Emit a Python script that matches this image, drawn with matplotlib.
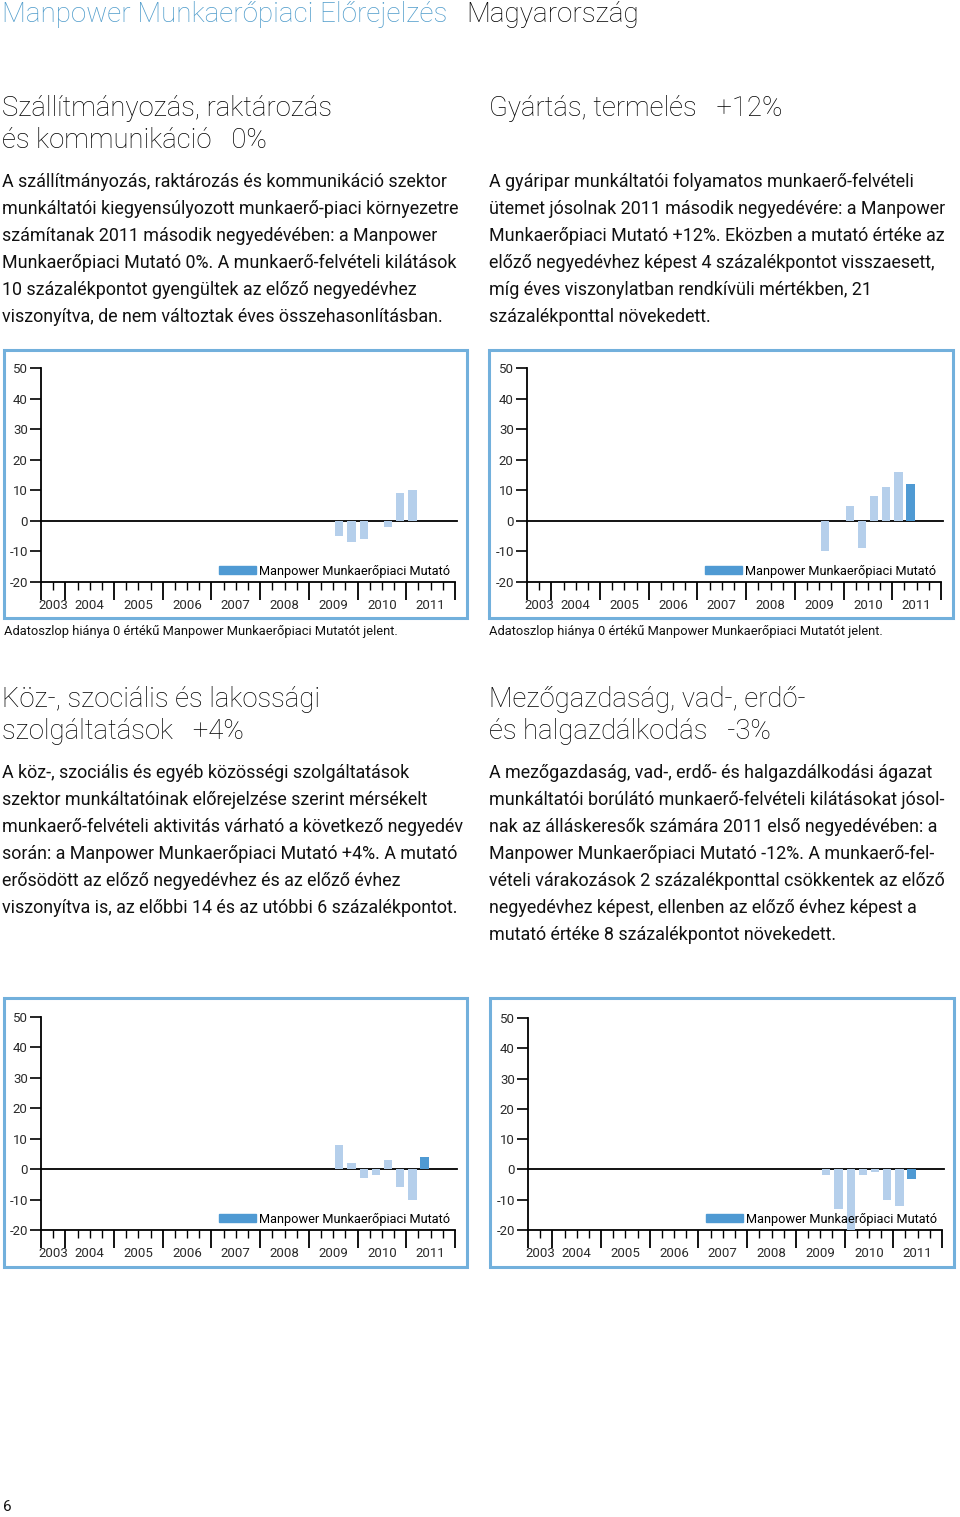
import matplotlib
matplotlib.use("Agg")
import matplotlib.pyplot as plt
from matplotlib.patches import Rectangle

plt.rcParams['font.family'] = ['Roboto', 'DejaVu Sans']

# quarters from 2003 Q3 to 2011 Q4 on the x axis
first_year = 2003
first_q = 3
n_quarters = 34
years = [2003, 2004, 2005, 2006, 2007, 2008, 2009, 2010, 2011]
yticks = [-20, -10, 0, 10, 20, 30, 40, 50]

# survey quarters with data (Hungary)
quarters = ["2009Q3", "2009Q4", "2010Q1", "2010Q2", "2010Q3", "2010Q4", "2011Q1", "2011Q2"]
transport = [-5, -7, -6, 0, -2, 9, 10, 0]
manufacturing = [-10, 0, 5, -9, 8, 11, 16, 12]
public_services = [8, 2, -3, -2, 3, -6, -10, 4]
agriculture = [-2, -13, -20, -2, -1, -10, -12, -3]

legend_label = "Manpower Munkaerőpiaci Mutató"
footnote = "Adatoszlop hiánya 0 értékű Manpower Munkaerőpiaci Mutatót jelent."

titles = {
    "tl": ["Szállítmányozás, raktározás", "és kommunikáció   0%"],
    "tr": ["Gyártás, termelés   +12%"],
    "bl": ["Köz-, szociális és lakossági", "szolgáltatások   +4%"],
    "br": ["Mezőgazdaság, vad-, erdő-", "és halgazdálkodás   -3%"],
}
bodies = {
    "tl": ["A szállítmányozás, raktározás és kommunikáció szektor",
           "munkáltatói kiegyensúlyozott munkaerő-piaci környezetre",
           "számítanak 2011 második negyedévében: a Manpower",
           "Munkaerőpiaci Mutató 0%. A munkaerő-felvételi kilátások",
           "10 százalékpontot gyengültek az előző negyedévhez",
           "viszonyítva, de nem változtak éves összehasonlításban."],
    "tr": ["A gyáripar munkáltatói folyamatos munkaerő-felvételi",
           "ütemet jósolnak 2011 második negyedévére: a Manpower",
           "Munkaerőpiaci Mutató +12%. Eközben a mutató értéke az",
           "előző negyedévhez képest 4 százalékpontot visszaesett,",
           "míg éves viszonylatban rendkívüli mértékben, 21",
           "százalékponttal növekedett."],
    "bl": ["A köz-, szociális és egyéb közösségi szolgáltatások",
           "szektor munkáltatóinak előrejelzése szerint mérsékelt",
           "munkaerő-felvételi aktivitás várható a következő negyedév",
           "során: a Manpower Munkaerőpiaci Mutató +4%. A mutató",
           "erősödött az előző negyedévhez és az előző évhez",
           "viszonyítva is, az előbbi 14 és az utóbbi 6 százalékpontot."],
    "br": ["A mezőgazdaság, vad-, erdő- és halgazdálkodási ágazat",
           "munkáltatói borúlátó munkaerő-felvételi kilátásokat jósol-",
           "nak az álláskeresők számára 2011 első negyedévében: a",
           "Manpower Munkaerőpiaci Mutató -12%. A munkaerő-fel-",
           "vételi várakozások 2 százalékponttal csökkentek az előző",
           "negyedévhez képest, ellenben az előző évhez képest a",
           "mutató értéke 8 százalékpontot növekedett."],
}

W, H = 960, 1517
LIGHT = "#b5cfeb"
DARK = "#4f9ad3"
BORDER = "#72b0dc"
HEAD_BLUE = "#4f9ccb"
INK = "#111111"

fig = plt.figure(figsize=(W / 100, H / 100), dpi=100)


def fy(y):
    return 1 - y / H


def q_index(label):
    yr = int(label[:4])
    q = int(label[5])
    return (yr - first_year) * 4 + (q - first_q)


def text_block(x, y0, lines, size, step, weight="normal", color=INK):
    for i, line in enumerate(lines):
        fig.text(x / W, fy(y0 + i * step), line, fontsize=size, color=color,
                 va="center", ha="left", fontweight=weight)


def chart(ax_left, ax_top, ax_bottom, ax_right, box, values, footer=None):
    bx0, by0, bx1, by1 = box
    fig.patches.append(Rectangle((bx0 / W, fy(by1)), (bx1 - bx0) / W, (by1 - by0) / H,
                                 transform=fig.transFigure, fill=False,
                                 edgecolor=BORDER, linewidth=2.2))
    ax = fig.add_axes([ax_left / W, fy(ax_bottom), (ax_right - ax_left) / W,
                       (ax_bottom - ax_top) / H])
    ax.set_xlim(0, n_quarters)
    ax.set_ylim(-20, 50)
    ax.patch.set_alpha(0)
    for s in ["top", "right"]:
        ax.spines[s].set_visible(False)
    ax.spines["left"].set_bounds(-20, 50)
    ax.spines["left"].set_linewidth(1.3)
    ax.spines["bottom"].set_linewidth(1.3)

    xs = [q_index(q) + 0.5 for q in quarters]
    colors = [LIGHT] * (len(values) - 1) + [DARK]
    ax.bar(xs, values, width=0.68, color=colors, zorder=3)
    ax.axhline(0, color="black", linewidth=1.3, xmax=1.005, clip_on=False, zorder=2)

    ax.set_yticks(yticks)
    ax.set_yticklabels([str(t) for t in yticks], fontsize=9.5, color="#2a2a2a")
    ax.tick_params(axis="y", length=8, width=1.2, pad=1.5)

    major = [0] + [2 + 4 * i for i in range(len(years))]
    ax.set_xticks(major)
    ax.set_xticklabels([])
    ax.set_xticks(range(n_quarters + 1), minor=True)
    ax.tick_params(axis="x", which="major", length=13, width=1.3)
    ax.tick_params(axis="x", which="minor", length=6, width=1.0)
    centers = [1] + [4 + 4 * i for i in range(len(years) - 1)]
    for c, yr in zip(centers, years):
        ax.text(c, -0.08, str(yr), transform=ax.get_xaxis_transform(),
                ha="center", va="top", fontsize=9.5, color="#2a2a2a")

    ax.legend([Rectangle((0, 0), 1, 1, color=DARK)], [legend_label],
              loc="lower right", bbox_to_anchor=(1.0, 0.0), frameon=False,
              fontsize=9.2, handlelength=2.9, handleheight=0.55,
              handletextpad=0.3, borderaxespad=0.15, borderpad=0.2)
    if footer:
        fig.text(bx0 / W, fy(by1 + 13), footer, fontsize=9.3, color=INK,
                 va="center", ha="left")
    return ax


# header
fig.text(2 / W, fy(14), "Manpower Munkaerőpiaci Előrejelzés", fontsize=20,
         color=HEAD_BLUE, va="center", ha="left", fontweight="light")
fig.text(466 / W, fy(14), "Magyarország", fontsize=20, color="black",
         va="center", ha="left", fontweight="light")

# text sections
text_block(2, 108, titles["tl"], 19.8, 33, "light", "black")
text_block(489, 108, titles["tr"], 19.8, 33, "light", "black")
text_block(2, 182, bodies["tl"], 12.9, 27)
text_block(489, 182, bodies["tr"], 12.9, 27)
text_block(2, 699, titles["bl"], 19.8, 33, "light", "black")
text_block(489, 699, titles["br"], 19.8, 33, "light", "black")
text_block(2, 773, bodies["bl"], 12.9, 27)
text_block(489, 773, bodies["br"], 12.9, 27)

# charts
chart(41, 368, 582, 455, (4, 350, 467, 618), transport, footnote)
chart(527, 368, 582, 941, (489, 350, 953, 618), manufacturing, footnote)
chart(41, 1017, 1230, 455, (4, 998, 467, 1267), public_services)
chart(528, 1018, 1230, 942, (490, 998, 954, 1267), agriculture)

fig.text(3 / W, fy(1507), "6", fontsize=11, color=INK, va="center", ha="left")

fig.savefig("out.png", dpi=100)
